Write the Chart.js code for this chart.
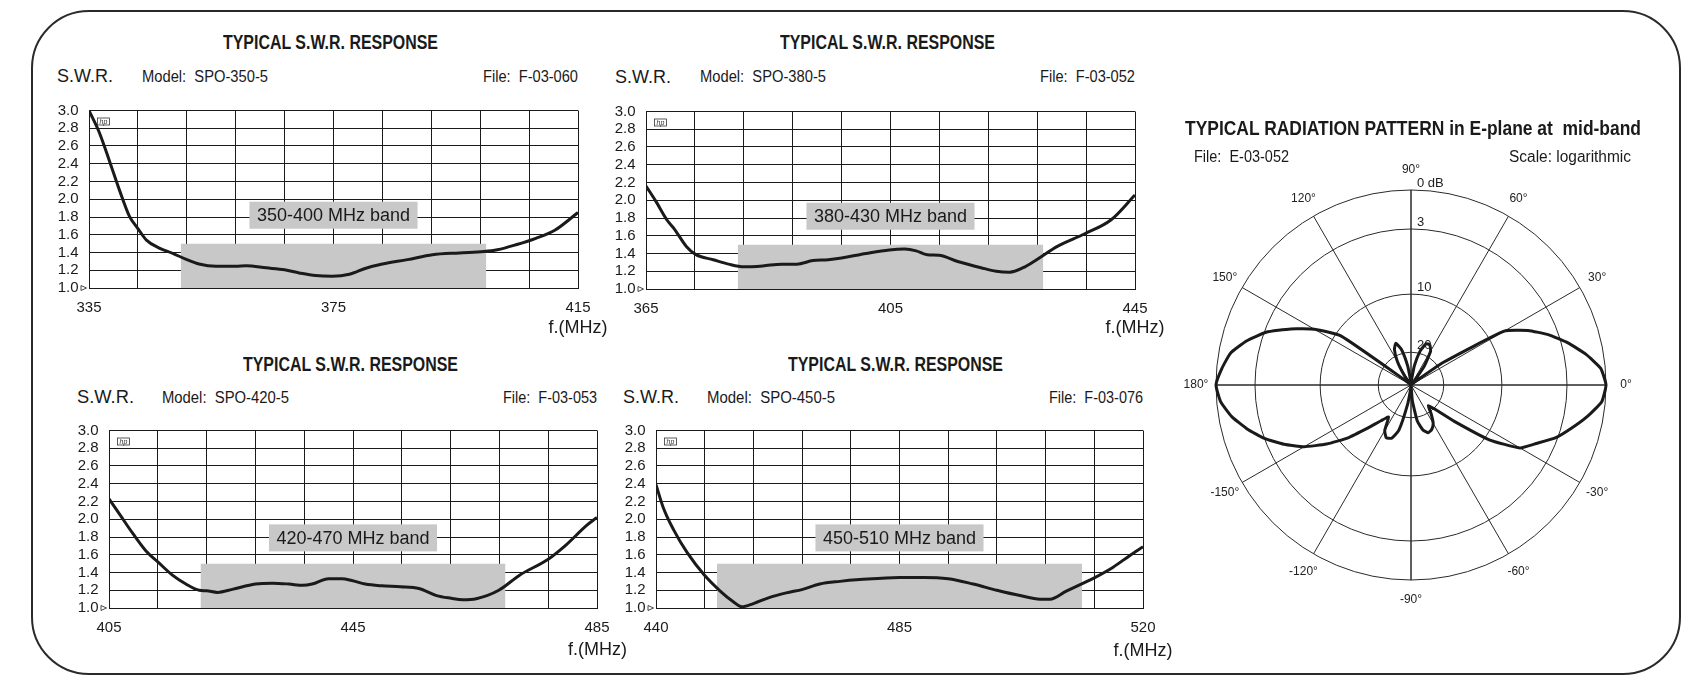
<!DOCTYPE html>
<html>
<head>
<meta charset="utf-8">
<title>Typical S.W.R. response and radiation pattern</title>
<script src="https://cdn.jsdelivr.net/npm/chart.js@4.4.1/dist/chart.umd.min.js"></script>
<style>
html, body { margin: 0; padding: 0; background: #fff; }
#page { position: relative; width: 1708px; height: 694px; overflow: hidden; background: #fff;
        font-family: "Liberation Sans", Arial, Helvetica, sans-serif; color: #1a1a1a; }
#frame { position: absolute; left: 31px; top: 10px; width: 1650px; height: 665px; box-sizing: border-box;
         border: 2.5px solid #2a2a2a; border-radius: 58px; }
canvas { position: absolute; }
.t { position: absolute; white-space: pre; line-height: 1; z-index: 5; }
</style>
</head>
<body>
<div id="page"><div id="frame"></div></div>
<script>
// ---------------- DATA ----------------
// SPO-350-5
const freq1 = [335, 336.7, 338.4, 340, 341.6, 343, 344.4, 346.5, 348.7, 351, 353, 355.8, 359, 360.7, 364, 367, 369.4, 372.1, 374.8, 377.6, 380.3, 383, 387.1, 391.2, 395.6, 399.6, 401.8, 405, 408.1, 411.2, 415];
const swr1  = [3.0, 2.75, 2.42, 2.10, 1.81, 1.67, 1.54, 1.45, 1.39, 1.32, 1.27, 1.245, 1.245, 1.25, 1.227, 1.205, 1.17, 1.14, 1.133, 1.155, 1.223, 1.27, 1.32, 1.375, 1.395, 1.41, 1.43, 1.49, 1.56, 1.65, 1.85];
const band1 = [350, 400];
const ticks1 = ['335', '375', '415'];

// SPO-380-5
const freq2 = [365, 366.6, 368.4, 369.7, 371.6, 373.1, 376, 378.5, 381, 384.1, 387.2, 389.7, 392.3, 394.8, 397, 401, 404.8, 407.3, 409.2, 411, 412.9, 416, 419.8, 422.3, 424.5, 426.7, 428.9, 432.3, 436.7, 441.1, 445];
const swr2  = [2.16, 1.99, 1.78, 1.67, 1.48, 1.39, 1.33, 1.28, 1.25, 1.26, 1.28, 1.28, 1.32, 1.33, 1.35, 1.40, 1.44, 1.45, 1.43, 1.385, 1.38, 1.31, 1.24, 1.20, 1.19, 1.24, 1.33, 1.48, 1.62, 1.78, 2.06];
const band2 = [380, 430];
const ticks2 = ['365', '405', '445'];

// SPO-420-5
const freq3 = [405, 406.7, 408.9, 411.1, 413, 415.4, 417.6, 419.8, 421, 422.8, 425.2, 429, 431.8, 434.5, 436.8, 438.3, 441, 443.2, 444.8, 447, 449.7, 452.8, 455.8, 458.7, 461.1, 463, 465.2, 468.9, 472.3, 477, 480, 483.3, 485];
const swr3  = [2.23, 2.06, 1.84, 1.64, 1.52, 1.37, 1.27, 1.20, 1.194, 1.176, 1.21, 1.27, 1.28, 1.27, 1.255, 1.27, 1.33, 1.33, 1.31, 1.27, 1.25, 1.24, 1.22, 1.14, 1.11, 1.094, 1.105, 1.20, 1.37, 1.55, 1.715, 1.93, 2.02];
const band3 = [420, 470];
const ticks3 = ['405', '445', '485'];

// SPO-450-5
const freq4 = [440, 441.2, 442.9, 445.1, 447.9, 450.5, 452.7, 454.1, 456, 458.7, 461.4, 464.1, 466.9, 470.2, 473.5, 480, 483.9, 488, 492.1, 496, 499.8, 503.1, 504.7, 507.4, 510.2, 512, 515.1, 517.8, 520];
const swr4  = [2.39, 2.13, 1.88, 1.626, 1.374, 1.194, 1.07, 1.014, 1.05, 1.12, 1.17, 1.21, 1.27, 1.30, 1.32, 1.345, 1.345, 1.33, 1.27, 1.20, 1.14, 1.10, 1.10, 1.19, 1.28, 1.34, 1.46, 1.59, 1.69];
const band4 = [450, 510];
const ticks4 = ['440', '485', '520'];

const bandMaxSwr = 1.5;

// Radiation pattern, E-plane (angle in degrees, counter-clockwise from 0°; level in dB below maximum)
const patternAngles = [0,5,10,15,20,25,30,35,40,45,50,55,60,65,70,75,80,85,90,95,100,105,110,115,120,125,130,135,140,145,150,155,160,165,170,175,180,185,190,195,200,205,210,215,220,225,230,235,240,245,250,255,260,265,270,275,280,285,290,295,300,305,310,315,320,325,330,335,340,345,350,355];
const patternDb = [0, 0.35, 1.35, 2.5, 4.0, 5.9, 8.2, 18.9, 28.8, 30,
                   28.8, 22.9, 18.9, 18.0, 18.1, 19.6, 24.0, 28.8, 30, 28.8,
                   24.0, 19.3, 18.0, 18.9, 21.7, 26.4, 29.4, 30, 28.2, 10.9,
                   7.8, 5.5, 3.2, 1.9, 0.9, 0.4, 0, 0.3, 1.0, 1.95,
                   3.0, 4.7, 6.5, 8.7, 11.5, 15.2, 17.6, 18.9, 16.6, 15.6,
                   15.9, 17.6, 24.0, 28.8, 30, 25.2, 19.3, 17.6, 16.9, 17.2,
                   18.0, 19.6, 21.8, 19.6, 15.9, 9.5, 6.25, 4.9, 3.2, 2.2,
                   1.2, 0.27];
// logarithmic radial scale: rings (dB) and their labels
const ringDb = [0, 3, 10, 20, 30];
const ringLabels = ['0 dB', '3', '10', '20'];
const ringRadius = [1, 0.8, 0.466, 0.168, 0];   // scale calibration of the log chart paper
const angleLabelEvery = 30;

// ---------------- HELPERS ----------------
const FONT = '"Liberation Sans", Arial, Helvetica, sans-serif';
Chart.defaults.font.family = FONT;
Chart.defaults.color = '#1a1a1a';
const INK = '#1a1a1a';
const page = document.getElementById('page');

function addText(t) {
  const el = document.createElement('div');
  el.className = 't';
  el.textContent = t.text;
  el.style.fontSize = t.size + 'px';
  el.style.lineHeight = t.size + 'px';
  if (t.bold) el.style.fontWeight = '700';
  page.appendChild(el);
  const w = el.getBoundingClientRect().width;
  const k = t.w ? t.w / w : 1;
  const vis = w * k;
  const left = t.anchor === 'left' ? t.x : (t.anchor === 'right' ? t.x - vis : t.x - vis / 2);
  el.style.left = left + 'px';
  el.style.top = (t.y - t.size * 0.49) + 'px';
  el.style.transformOrigin = '0 50%';
  el.style.transform = 'scaleX(' + k + ')';
}

const decorPlugin = {
  id: 'decor',
  afterDraw(chart, args, opts) {
    const ctx = chart.ctx, a = chart.chartArea;
    const xs = chart.scales.x, ys = chart.scales.y;
    ctx.save();
    // band label box
    ctx.font = '18px ' + FONT;
    const tw = ctx.measureText(opts.text).width;
    const bw = tw + 15, bh = 27;
    const cx = xs.getPixelForValue(opts.center), cy = ys.getPixelForValue(opts.y);
    ctx.fillStyle = '#c8c8c8';
    ctx.fillRect(cx - bw / 2, cy - bh / 2, bw, bh);
    ctx.fillStyle = INK;
    ctx.textAlign = 'center';
    ctx.textBaseline = 'middle';
    ctx.fillText(opts.text, cx, cy + 1);
    // small "hp" mark
    ctx.strokeStyle = '#333';
    ctx.lineWidth = 0.8;
    ctx.strokeRect(a.left + 8.5, a.top + 7.5, 12, 7);
    ctx.font = 'italic 7px ' + FONT;
    ctx.fillStyle = '#333';
    ctx.fillText('hp', a.left + 14.5, a.top + 11.3);
    // reference triangle at the 1.0 line
    ctx.beginPath();
    ctx.moveTo(a.left - 8, a.bottom - 2.5);
    ctx.lineTo(a.left - 2.5, a.bottom);
    ctx.lineTo(a.left - 8, a.bottom + 2.5);
    ctx.closePath();
    ctx.lineWidth = 0.9;
    ctx.stroke();
    ctx.restore();
  }
};

function swrChart(cfg) {
  const yAxisW = 60, padTop = 12, padRight = 40, xAxisH = 45;
  const c = document.createElement('canvas');
  c.width = yAxisW + cfg.plot.w + padRight;
  c.height = padTop + cfg.plot.h + xAxisH;
  c.style.left = (cfg.plot.x - yAxisW) + 'px';
  c.style.top = (cfg.plot.y - padTop) + 'px';
  page.appendChild(c);
  const pts = cfg.freq.map((f, i) => ({ x: f, y: cfg.swr[i] }));
  const xMin = cfg.freq[0], xMax = cfg.freq[cfg.freq.length - 1];
  new Chart(c, {
    type: 'line',
    data: {
      datasets: [
        { data: pts, borderColor: INK, borderWidth: 3, pointRadius: 0, fill: false,
          cubicInterpolationMode: 'monotone', order: 0 },
        { data: [{ x: cfg.band[0], y: bandMaxSwr }, { x: cfg.band[1], y: bandMaxSwr }],
          borderColor: 'rgba(0,0,0,0)', borderWidth: 0, backgroundColor: '#c8c8c8',
          pointRadius: 0, fill: { value: 1 }, order: 1 }
      ]
    },
    options: {
      responsive: false, animation: false, events: [],
      layout: { padding: { left: 0, top: padTop, right: padRight, bottom: 0 } },
      plugins: {
        legend: { display: false }, tooltip: { enabled: false },
        decor: { text: cfg.bandText, center: (cfg.band[0] + cfg.band[1]) / 2, y: cfg.labelY }
      },
      scales: {
        x: {
          type: 'linear', min: xMin, max: xMax, z: 1,
          afterFit: s => { s.height = xAxisH; },
          grid: { color: INK, lineWidth: 1, drawTicks: false },
          border: { color: INK, width: 1 },
          ticks: {
            stepSize: (xMax - xMin) / 10, autoSkip: false, maxRotation: 0, padding: 10.5,
            font: { size: 15 }, color: INK,
            callback: (v, i, arr) => i === 0 ? cfg.ticks[0] : (i === 5 ? cfg.ticks[1] : (i === arr.length - 1 ? cfg.ticks[2] : ''))
          }
        },
        y: {
          type: 'linear', min: 1, max: 3, z: 1,
          afterFit: s => { s.width = yAxisW; },
          grid: { color: INK, lineWidth: 1, drawTicks: false },
          border: { color: INK, width: 1 },
          ticks: { stepSize: 0.2, padding: 10.5, font: { size: 15 }, color: INK, autoSkip: false,
                   callback: v => Number(v).toFixed(1) }
        }
      }
    },
    plugins: [decorPlugin]
  });
}

swrChart({ plot: { x: 89, y: 103, w: 489, h: 185 }, freq: freq1, swr: swr1, band: band1, ticks: ticks1, bandText: '350-400 MHz band', labelY: 1.82 });
swrChart({ plot: { x: 646, y: 104, w: 489, h: 185 }, freq: freq2, swr: swr2, band: band2, ticks: ticks2, bandText: '380-430 MHz band', labelY: 1.82 });
swrChart({ plot: { x: 109, y: 423, w: 488, h: 185 }, freq: freq3, swr: swr3, band: band3, ticks: ticks3, bandText: '420-470 MHz band', labelY: 1.79 });
swrChart({ plot: { x: 656, y: 423, w: 487, h: 185 }, freq: freq4, swr: swr4, band: band4, ticks: ticks4, bandText: '450-510 MHz band', labelY: 1.79 });

// ---------------- POLAR (radar) ----------------
function dbToRadius(db) {
  for (let k = 0; k < ringDb.length - 1; k++) {
    if (db <= ringDb[k + 1]) {
      const t = (db - ringDb[k]) / (ringDb[k + 1] - ringDb[k]);
      return ringRadius[k] + t * (ringRadius[k + 1] - ringRadius[k]);
    }
  }
  return 0;
}
const step = patternAngles[1] - patternAngles[0];
const nAng = patternAngles.length;
// radar runs clockwise from the top (90°)
const radarAngles = [];
for (let i = 0; i < nAng; i++) radarAngles.push(((90 - step * i) % 360 + 360) % 360);
const radarLabels = radarAngles.map(a => (a > 180 ? a - 360 : a));
const radarData = radarAngles.map(a => dbToRadius(patternDb[patternAngles.indexOf(a)]));
const every = angleLabelEvery / step;

const polarLabelPlugin = {
  id: 'polarLabels',
  afterDraw(chart) {
    const s = chart.scales.r, ctx = chart.ctx;
    ctx.save();
    ctx.fillStyle = '#222';
    ctx.textBaseline = 'middle';
    ctx.textAlign = 'center';
    ctx.font = '12px ' + FONT;
    radarLabels.forEach((lab, i) => {
      if (i % every !== 0) return;
      const p = s.getPointPosition(i, s.drawingArea + 20);
      ctx.fillText(lab + '°', p.x, p.y);
    });
    ctx.textAlign = 'left';
    ctx.font = '13px ' + FONT;
    ringLabels.forEach((lab, k) => {
      const d = s.getDistanceFromCenterForValue(dbToRadius(ringDb[k]));
      ctx.fillText(lab, s.xCenter + 6, s.yCenter - d - 7);
    });
    ctx.restore();
  }
};

(function () {
  const size = 470, pad = 40;
  const c = document.createElement('canvas');
  c.width = size; c.height = size;
  c.style.left = (1411 - size / 2) + 'px';
  c.style.top = (385 - size / 2) + 'px';
  page.appendChild(c);
  const tickVals = [0].concat(ringDb.slice(0, ringLabels.length).map(dbToRadius).reverse());
  new Chart(c, {
    type: 'radar',
    data: { labels: radarLabels, datasets: [{ data: radarData, borderColor: INK, borderWidth: 3,
            pointRadius: 0, fill: false, tension: 0.15 }] },
    options: {
      responsive: false, animation: false, events: [],
      layout: { padding: pad },
      plugins: { legend: { display: false }, tooltip: { enabled: false } },
      scales: {
        r: {
          min: 0, max: 1, startAngle: 0,
          afterBuildTicks: s => { s.ticks = tickVals.map(v => ({ value: v })); },
          ticks: { display: false },
          pointLabels: { display: false },
          grid: { circular: true, color: '#2a2a2a', lineWidth: 1 },
          angleLines: {
            display: true,
            color: ctx => (ctx.index % every === 0 ? '#2a2a2a' : 'rgba(0,0,0,0)'),
            lineWidth: ctx => (ctx.index % every === 0 ? (ctx.index % (3 * every) === 0 ? 1.5 : 1) : 0)
          }
        }
      }
    },
    plugins: [polarLabelPlugin]
  });
})();

// ---------------- TEXT ----------------
const texts = [
  // chart 1
  { text: 'TYPICAL S.W.R. RESPONSE', x: 223, y: 41.8, anchor: 'left', size: 20, bold: true, w: 215 },
  { text: 'S.W.R.', x: 57, y: 75.5, anchor: 'left', size: 18, w: 56 },
  { text: 'Model:  SPO-350-5', x: 142, y: 76.5, anchor: 'left', size: 16, w: 126 },
  { text: 'File:  F-03-060', x: 578, y: 76.5, anchor: 'right', size: 16, w: 95 },
  { text: 'f.(MHz)', x: 578, y: 327, anchor: 'center', size: 18 },
  // chart 2
  { text: 'TYPICAL S.W.R. RESPONSE', x: 780, y: 42, anchor: 'left', size: 20, bold: true, w: 215 },
  { text: 'S.W.R.', x: 615, y: 76.5, anchor: 'left', size: 18, w: 56 },
  { text: 'Model:  SPO-380-5', x: 700, y: 77, anchor: 'left', size: 16, w: 126 },
  { text: 'File:  F-03-052', x: 1135, y: 77, anchor: 'right', size: 16, w: 95 },
  { text: 'f.(MHz)', x: 1135, y: 327, anchor: 'center', size: 18 },
  // chart 3
  { text: 'TYPICAL S.W.R. RESPONSE', x: 243, y: 363.7, anchor: 'left', size: 20, bold: true, w: 215 },
  { text: 'S.W.R.', x: 77, y: 397, anchor: 'left', size: 18, w: 57 },
  { text: 'Model:  SPO-420-5', x: 162, y: 398, anchor: 'left', size: 16, w: 127 },
  { text: 'File:  F-03-053', x: 597, y: 398, anchor: 'right', size: 16, w: 94 },
  { text: 'f.(MHz)', x: 597.5, y: 649, anchor: 'center', size: 18 },
  // chart 4
  { text: 'TYPICAL S.W.R. RESPONSE', x: 788, y: 363.7, anchor: 'left', size: 20, bold: true, w: 215 },
  { text: 'S.W.R.', x: 623, y: 397, anchor: 'left', size: 18, w: 56 },
  { text: 'Model:  SPO-450-5', x: 707, y: 398, anchor: 'left', size: 16, w: 128 },
  { text: 'File:  F-03-076', x: 1143, y: 398, anchor: 'right', size: 16, w: 94 },
  { text: 'f.(MHz)', x: 1143, y: 649.5, anchor: 'center', size: 18 },
  // polar
  { text: 'TYPICAL RADIATION PATTERN in E-plane at  mid-band', x: 1185, y: 128, anchor: 'left', size: 20, bold: true, w: 456 },
  { text: 'File:  E-03-052', x: 1194, y: 156.5, anchor: 'left', size: 16, w: 95 },
  { text: 'Scale: logarithmic', x: 1631, y: 156.5, anchor: 'right', size: 16, w: 122 }
];
texts.forEach(addText);
</script>
</body>
</html>
